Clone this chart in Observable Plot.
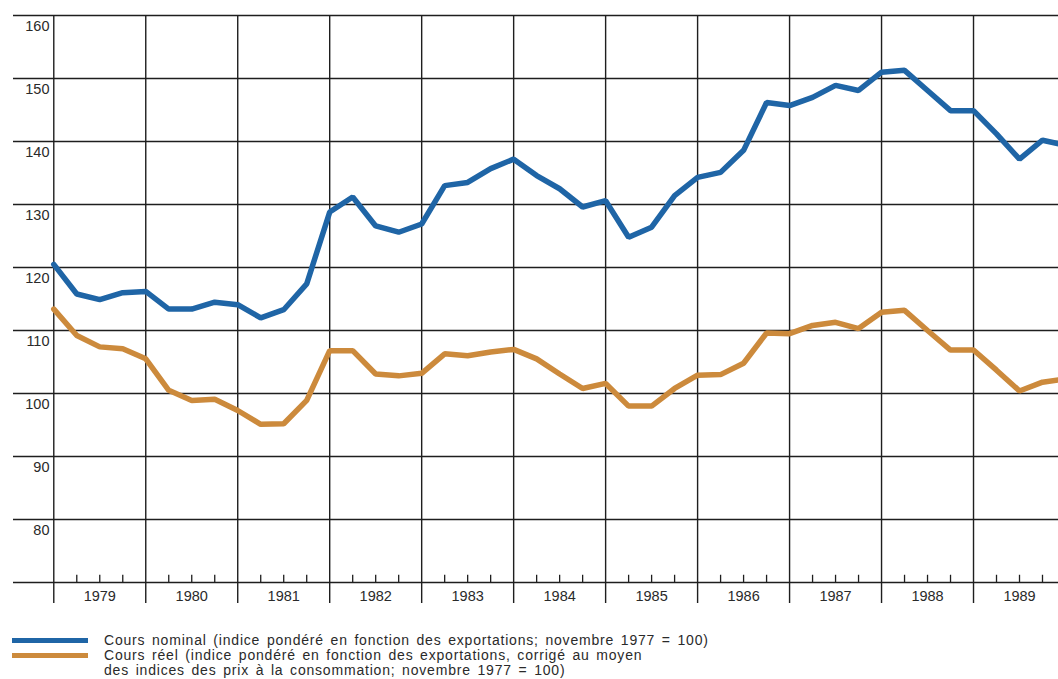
<!DOCTYPE html>
<html>
<head>
<meta charset="utf-8">
<script src="https://cdn.jsdelivr.net/npm/d3@7"></script>
<script src="https://cdn.jsdelivr.net/npm/@observablehq/plot@0.6"></script>
<style>
  html, body { margin: 0; padding: 0; background: #ffffff; }
  body { width: 1058px; height: 679px; overflow: hidden; font-family: "Liberation Sans", Arial, sans-serif; }
  #chart svg { display: block; background: linear-gradient(to bottom, #ffffff 0 14px, #fbf9ec 14px 605px, #ffffff 605px); }
  .legend { position: relative; margin-top: 21px; color: #2a2a2a; font-size: 14px; line-height: 15px; letter-spacing: 0.8px; word-spacing: 2px; }
  .row { position: relative; padding-left: 104px; }
  .sw { position: absolute; left: 12px; width: 76px; height: 5px; top: 4.5px; }
</style>
</head>
<body>
<div id="chart"></div>
<div class="legend">
  <div class="row"><span class="sw" style="background:#1f65a6"></span>Cours nominal (indice pondéré en fonction des exportations; novembre 1977 = 100)</div>
  <div class="row"><span class="sw" style="background:#cc8a3c"></span>Cours réel (indice pondéré en fonction des exportations, corrigé au moyen<br>des indices des prix à la consommation; novembre 1977 = 100)</div>
</div>
<script>
// Quarterly observations, 1979 Q1 .. 1990 Q1
const quarters = d3.range(0, 45).map(i => 1979 + i * 0.25);
const nominal = [
  120.5, 115.8, 114.9, 116.0,
  116.2, 113.4, 113.4, 114.5,
  114.1, 112.0, 113.3, 117.4,
  128.8, 131.2, 126.6, 125.6,
  126.9, 133.0, 133.5, 135.7,
  137.2, 134.6, 132.5, 129.6,
  130.6, 124.8, 126.4, 131.4,
  134.3, 135.1, 138.6, 146.2,
  145.7, 147.0, 148.9, 148.1,
  151.0, 151.3, 148.1, 144.9,
  144.9, 141.2, 137.2, 140.2,
  139.4
];
const reel = [
  113.4, 109.2, 107.4, 107.1,
  105.5, 100.5, 98.9, 99.1,
  97.3, 95.1, 95.2, 98.9,
  106.8, 106.8, 103.1, 102.8,
  103.2, 106.3, 106.0, 106.6,
  107.0, 105.5, 103.1, 100.8,
  101.6, 98.0, 98.0, 100.8,
  102.9, 103.0, 104.8, 109.6,
  109.5, 110.8, 111.3, 110.3,
  112.9, 113.2, 110.0, 106.9,
  106.9, 103.7, 100.4, 101.8,
  102.3
];
const years = [1979, 1980, 1981, 1982, 1983, 1984, 1985, 1986, 1987, 1988, 1989];
const yGrid = [70, 80, 90, 100, 110, 120, 130, 140, 150, 160];
const yLabels = [80, 90, 100, 110, 120, 130, 140, 150, 160];

const nomData = quarters.map((q, i) => ({q, v: nominal[i]}));
const reelData = quarters.map((q, i) => ({q, v: reel[i]}));
const minorTicks = years.flatMap(y => [y + 0.25, y + 0.5, y + 0.75]);
const yearMids = years.map(y => y + 0.5);

const chart = Plot.plot({
  width: 1058,
  height: 612,
  marginTop: 15,
  marginBottom: 30,
  marginLeft: 13,
  marginRight: 0,
  style: { fontFamily: "'Liberation Sans', Arial, sans-serif", fontSize: "14px", color: "#2a2a2a", background: "transparent" },
  x: { domain: [1978.562, 1989.924], label: null },
  y: { domain: [70, 160], label: null },
  marks: [
    Plot.ruleY(yGrid, { stroke: "#1e1e1e", strokeWidth: 1.4 }),
    Plot.ruleX(years, { stroke: "#1e1e1e", strokeWidth: 1.4, insetBottom: -21 }),
    Plot.ruleX(minorTicks, { y1: 70, y2: 71.15, stroke: "#1e1e1e", strokeWidth: 1.3 }),
    Plot.axisY(yLabels, { anchor: "left", tickSize: 0, textAnchor: "end", dx: 45, dy: 11, fill: "#2a2a2a", fontSize: 14.5, label: null }),
    Plot.axisX(yearMids, { anchor: "bottom", tickSize: 0, tickPadding: 8, tickFormat: d => String(Math.floor(d)), fill: "#2a2a2a", fontSize: 14.5, label: null }),
    Plot.line(reelData, { x: "q", y: "v", stroke: "#cc8a3c", strokeWidth: 5.5, clip: true, strokeLinejoin: "miter" }),
    Plot.line(nomData, { x: "q", y: "v", stroke: "#1f65a6", strokeWidth: 5.5, clip: true, strokeLinejoin: "miter" })
  ]
});
document.getElementById("chart").appendChild(chart);
</script>
</body>
</html>
